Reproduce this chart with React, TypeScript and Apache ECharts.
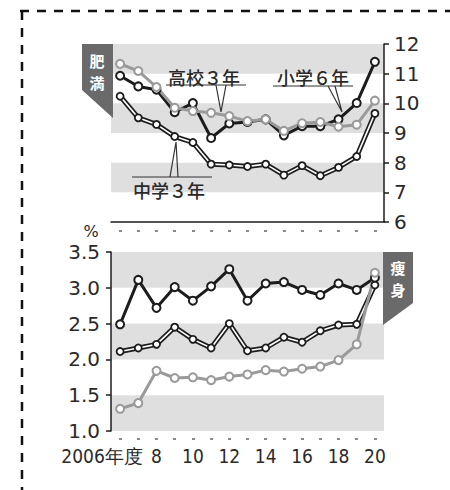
import React, { useEffect, useRef } from "react";
import * as echarts from "echarts";

const years = ["2006", "2007", "2008", "2009", "2010", "2011", "2012", "2013", "2014", "2015", "2016", "2017", "2018", "2019", "2020"];

// 肥満 (obesity, %)
const obeseElem6 = [10.93, 10.57, 10.46, 9.7, 10.01, 8.83, 9.32, 9.37, 9.46, 8.92, 9.23, 9.23, 9.46, 10.01, 11.4];
const obeseHigh3 = [11.33, 11.09, 10.55, 9.85, 9.74, 9.68, 9.57, 9.4, 9.46, 9.07, 9.33, 9.37, 9.21, 9.28, 10.09];
const obeseJunior3 = [10.24, 9.51, 9.29, 8.88, 8.68, 7.95, 7.92, 7.87, 7.95, 7.58, 7.9, 7.56, 7.84, 8.21, 9.66];

// 痩身 (thinness, %)
const thinElem6 = [2.49, 3.11, 2.72, 3.01, 2.82, 3.02, 3.26, 2.82, 3.06, 3.08, 2.97, 2.9, 3.06, 2.97, 3.14];
const thinJunior3 = [2.11, 2.16, 2.21, 2.45, 2.28, 2.16, 2.5, 2.12, 2.16, 2.31, 2.24, 2.4, 2.48, 2.49, 3.04];
const thinHigh3 = [1.31, 1.39, 1.84, 1.74, 1.75, 1.71, 1.76, 1.79, 1.85, 1.83, 1.87, 1.9, 1.99, 2.21, 3.21];

const seriesLabels = ["小学６年", "中学３年", "高校３年"];
const panelTitles = ["肥満", "痩身"];

const BLACK = "#1c1c1c";
const GRAY = "#9a9a9a";
const BAND = "#dfdfdf";
const CJK = "'Noto Sans CJK JP', sans-serif";
const NUM = "'DejaVu Sans', sans-serif";
const Z = 100;

function seriesSet(xi: number, yi: number, elem: number[], junior: number[], high: number[]) {
  const common = { type: "line", xAxisIndex: xi, yAxisIndex: yi, silent: true, emphasis: { disabled: true } };
  return [
    { ...common, name: seriesLabels[1] + "_outer", data: junior, symbol: "none", lineStyle: { color: BLACK, width: 5 } },
    {
      ...common, name: seriesLabels[1], data: junior, symbol: "circle", symbolSize: 7,
      lineStyle: { color: "#fff", width: 1.6 },
      itemStyle: { color: "#fff", borderColor: BLACK, borderWidth: 1.8 },
    },
    {
      ...common, name: seriesLabels[0], data: elem, symbol: "circle", symbolSize: 8,
      lineStyle: { color: BLACK, width: 3 },
      itemStyle: { color: "#fff", borderColor: BLACK, borderWidth: 2 },
    },
    {
      ...common, name: seriesLabels[2], data: high, symbol: "circle", symbolSize: 8,
      lineStyle: { color: GRAY, width: 3 },
      itemStyle: { color: "#fff", borderColor: GRAY, borderWidth: 2 },
    },
  ];
}

function callout(text: string, tx: number, ty: number, lineY: number, lx1: number, lx2: number, ax: number, ay: number, a1: number, a2: number) {
  return [
    { type: "text", z: Z, x: tx, y: ty, style: { text, fill: "#2a2a2a", font: `500 18px ${CJK}`, textVerticalAlign: "middle", textAlign: "left" } },
    { type: "line", z: Z, shape: { x1: lx1, y1: lineY, x2: lx2, y2: lineY }, style: { stroke: "#333", lineWidth: 1.2 } },
    { type: "polyline", z: Z, shape: { points: [[a1, lineY], [ax, ay], [a2, lineY]] }, style: { stroke: "#333", lineWidth: 1.2, fill: null } },
  ];
}

function badgeText(ch: string, x: number, y: number) {
  return { type: "text", z: Z, x, y, style: { text: ch, fill: "#fff", font: `bold 15px ${CJK}`, textAlign: "center", textVerticalAlign: "middle" } };
}

export default function App() {
  const ref = useRef<HTMLDivElement>(null);
  useEffect(() => {
    const chart = echarts.init(ref.current!, null, { renderer: "svg" });
    const dotTick = { show: true, alignWithLabel: true, interval: 0, length: 2, lineStyle: { color: "#8a8a8a", width: 3 } };
    const xFont = "'Liberation Sans Narrow', 'DejaVu Sans Condensed', Roboto, sans-serif";
    const option: any = {
      animation: false,
      backgroundColor: "#fff",
      grid: [
        { left: 111, right: 66, top: 44, height: 178 },
        { left: 111, right: 66, top: 252, height: 179 },
      ],
      xAxis: [
        {
          gridIndex: 0, type: "category", data: years, boundaryGap: true,
          axisLine: { show: true, lineStyle: { color: BLACK, width: 1.5 } },
          axisTick: { show: false }, axisLabel: { show: false }, splitLine: { show: false },
        },
        {
          gridIndex: 0, type: "category", data: years, boundaryGap: true, position: "bottom", offset: 8,
          axisLine: { show: false }, axisTick: dotTick, axisLabel: { show: false, interval: 0 }, splitLine: { show: false },
        },
        {
          gridIndex: 1, type: "category", data: years, boundaryGap: true, position: "bottom", offset: 7,
          axisLine: { show: false }, axisTick: dotTick, splitLine: { show: false },
          axisLabel: {
            interval: 0, margin: 8, color: "#2a2a2a", fontSize: 19, fontFamily: xFont,
            formatter: (v: string, i: number) => {
              if (i === 0) return "{a|" + v + "年度}";
              if (i % 2 === 1) return "";
              return String(Number(v) - 2000);
            },
            rich: { a: { padding: [0, 36, 0, 0], fontSize: 19, color: "#2a2a2a", fontFamily: xFont } },
          },
        },
      ],
      yAxis: [
        {
          gridIndex: 0, type: "value", position: "right", min: 6, max: 12, interval: 1,
          axisLine: { show: true, lineStyle: { color: BLACK, width: 1.5 } },
          axisTick: { show: true, inside: false, length: 5, lineStyle: { color: BLACK, width: 1.5 } },
          axisLabel: { margin: 10, color: "#2a2a2a", fontSize: 20, fontFamily: NUM },
          splitLine: { show: false },
          splitArea: { show: true, areaStyle: { color: ["rgba(0,0,0,0)", BAND] } },
        },
        {
          gridIndex: 1, type: "value", position: "left", min: 1, max: 3.5, interval: 0.5,
          axisLine: { show: true, lineStyle: { color: BLACK, width: 1.5 } },
          axisTick: { show: true, inside: false, length: 5, lineStyle: { color: BLACK, width: 1.5 } },
          axisLabel: { margin: 11, color: "#2a2a2a", fontSize: 20, fontFamily: NUM, formatter: (v: number) => v.toFixed(1) },
          splitLine: { show: false },
          splitArea: { show: true, areaStyle: { color: [BAND, "rgba(0,0,0,0)"] } },
        },
      ],
      series: [
        ...seriesSet(0, 0, obeseElem6, obeseJunior3, obeseHigh3),
        ...seriesSet(2, 1, thinElem6, thinJunior3, thinHigh3),
      ],
      graphic: [
        // dashed frame
        { type: "line", z: Z, shape: { x1: 20, y1: 11, x2: 450, y2: 11 }, style: { stroke: "#111", lineWidth: 2.5, lineDash: [9, 8] } },
        { type: "line", z: Z, shape: { x1: 22, y1: 11, x2: 22, y2: 490 }, style: { stroke: "#111", lineWidth: 2.5, lineDash: [9, 8] } },
        // badges
        { type: "polygon", z: Z, shape: { points: [[82, 44], [113, 44], [113, 118], [82, 90]] }, style: { fill: "#6a6a6a" } },
        badgeText(panelTitles[0][0], 97, 60),
        badgeText(panelTitles[0][1], 97, 82.5),
        { type: "polygon", z: Z, shape: { points: [[383, 252], [413, 252], [413, 303], [383, 325]] }, style: { fill: "#6a6a6a" } },
        badgeText(panelTitles[1][0], 398, 267),
        badgeText(panelTitles[1][1], 398, 289.5),
        // percent sign
        { type: "text", z: Z, x: 91, y: 231, style: { text: "%", fill: "#2a2a2a", font: `16px ${NUM}`, textAlign: "center", textVerticalAlign: "middle" } },
        // callouts
        ...callout(seriesLabels[2], 168, 77, 85, 166, 246, 221, 112, 216, 226),
        ...callout(seriesLabels[0], 277, 77, 86, 273, 353, 342, 112, 328, 335),
        ...callout(seriesLabels[1], 133, 190, 177, 132, 212, 176, 142, 170, 178),
      ],
    };
    chart.setOption(option);
    return () => chart.dispose();
  }, []);
  return <div ref={ref} style={{ position: "fixed", left: 0, top: 0, width: 450, height: 490, background: "#fff" }} />;
}
